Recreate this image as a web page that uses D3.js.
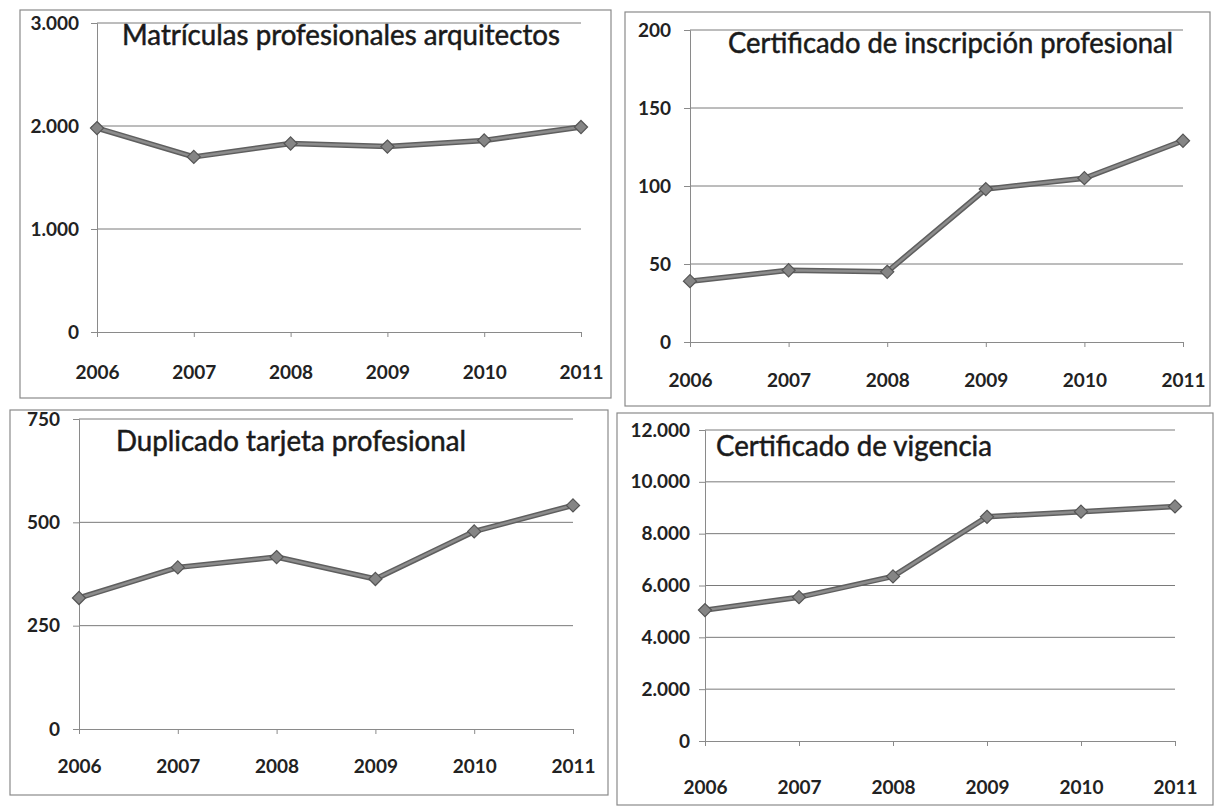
<!DOCTYPE html>
<html>
<head>
<meta charset="utf-8">
<script src="https://cdn.jsdelivr.net/npm/d3@7"></script>
<style>
  html, body { margin: 0; padding: 0; background: #ffffff; }
  svg { display: block; }
</style>
</head>
<body>
<svg id="chart" width="1221" height="812"></svg>
<script>
// ---- data ----
const years = ["2006", "2007", "2008", "2009", "2010", "2011"];

const matriculasValues  = [1980, 1700, 1830, 1800, 1860, 1990];
const inscripcionValues = [39, 46, 45, 98, 105, 129];
const duplicadoValues   = [317, 391, 416, 363, 478, 541];
const vigenciaValues    = [5050, 5550, 6350, 8650, 8850, 9050];

const titles = [
  "Matrículas profesionales arquitectos",
  "Certificado de inscripción profesional",
  "Duplicado tarjeta profesional",
  "Certificado de vigencia"
];

const matriculasTicks  = [0, 1000, 2000, 3000];
const inscripcionTicks = [0, 50, 100, 150, 200];
const duplicadoTicks   = [0, 250, 500, 750];
const vigenciaTicks    = [0, 2000, 4000, 6000, 8000, 10000, 12000];

// ---- layout (positions only) ----
const layouts = [
  { box: [20, 10, 611, 398],  x0: 97,  x1: 581,  y0: 332, yTop: 23,  titleX: 122, titleY: 45,  titleW: 438, padY: 12, padX: 29 },
  { box: [625, 12, 1210, 406], x0: 690, x1: 1183, y0: 342, yTop: 30,  titleX: 728, titleY: 53,  titleW: 445, padY: 13, padX: 27 },
  { box: [10, 410, 608, 795], x0: 79,  x1: 573,  y0: 729, yTop: 419, titleX: 116, titleY: 451, titleW: 350, padY: 13, padX: 26 },
  { box: [617, 413, 1213, 805], x0: 705, x1: 1175, y0: 741, yTop: 430, titleX: 716, titleY: 456, titleW: 276, padY: 9, padX: 35 }
];

const seriesList = [matriculasValues, inscripcionValues, duplicadoValues, vigenciaValues];
const tickList = [matriculasTicks, inscripcionTicks, duplicadoTicks, vigenciaTicks];

const locale = d3.formatLocale({ decimal: ",", thousands: ".", grouping: [3], currency: ["", ""] });
const fmt = locale.format(",d");

const svg = d3.select("#chart");
svg.append("rect").attr("width", 1221).attr("height", 812).attr("fill", "#ffffff");

const FONT = "Lato, 'Open Sans', 'DejaVu Sans', sans-serif";

layouts.forEach((L, i) => {
  const values = seriesList[i];
  const ticks = tickList[i];
  const g = svg.append("g");

  // panel border
  g.append("rect")
    .attr("x", L.box[0]).attr("y", L.box[1])
    .attr("width", L.box[2] - L.box[0]).attr("height", L.box[3] - L.box[1])
    .attr("fill", "#ffffff").attr("stroke", "#8a8a8a").attr("stroke-width", 1.2);

  const x = d3.scalePoint().domain(years).range([L.x0, L.x1]);
  const y = d3.scaleLinear().domain([0, d3.max(ticks)]).range([L.y0, L.yTop]);

  // gridlines
  g.append("g").selectAll("line")
    .data(ticks.filter(t => t > 0))
    .join("line")
    .attr("x1", L.x0).attr("x2", L.x1)
    .attr("y1", d => y(d)).attr("y2", d => y(d))
    .attr("stroke", "#7a7a7a").attr("stroke-width", 1);

  // y axis
  const yAxis = g.append("g")
    .attr("transform", `translate(${L.x0},0)`)
    .call(d3.axisLeft(y).tickValues(ticks).tickFormat(fmt).tickSize(6).tickPadding(L.padY));
  yAxis.select(".domain").attr("stroke", "#8a8a8a");
  yAxis.selectAll(".tick line").attr("stroke", "#8a8a8a");
  yAxis.selectAll("text")
    .attr("font-family", FONT).attr("font-weight", "bold")
    .attr("font-size", 19).attr("fill", "#222");

  // x axis
  const xAxis = g.append("g")
    .attr("transform", `translate(0,${L.y0})`)
    .call(d3.axisBottom(x).tickSize(5).tickPadding(L.padX));
  xAxis.select(".domain").attr("stroke", "#8a8a8a");
  xAxis.selectAll(".tick line").attr("stroke", "#8a8a8a");
  xAxis.selectAll("text")
    .attr("font-family", FONT).attr("font-weight", "bold")
    .attr("font-size", 19).attr("fill", "#222");

  // title
  g.append("text")
    .attr("x", L.titleX).attr("y", L.titleY)
    .attr("font-family", FONT).attr("font-size", 28)
    .attr("fill", "#1a1a1a").attr("stroke", "#1a1a1a").attr("stroke-width", 0.5)
    .attr("textLength", L.titleW).attr("lengthAdjust", "spacingAndGlyphs")
    .text(titles[i]);

  // line
  const line = d3.line().x((d, j) => x(years[j])).y(d => y(d));
  g.append("path").datum(values)
    .attr("d", line)
    .attr("fill", "none")
    .attr("stroke", "#5f5f5f").attr("stroke-width", 5.5)
    .attr("stroke-linejoin", "round");
  g.append("path").datum(values)
    .attr("d", line)
    .attr("fill", "none")
    .attr("stroke", "#8c8c8c").attr("stroke-width", 2.5)
    .attr("stroke-linejoin", "round");

  // diamond markers
  const diamond = d3.symbol().type(d3.symbolDiamond2).size(110);
  g.append("g").selectAll("path")
    .data(values)
    .join("path")
    .attr("transform", (d, j) => `translate(${x(years[j])},${y(d)})`)
    .attr("d", diamond)
    .attr("fill", "#858585").attr("stroke", "#555").attr("stroke-width", 1.2);
});
</script>
</body>
</html>
